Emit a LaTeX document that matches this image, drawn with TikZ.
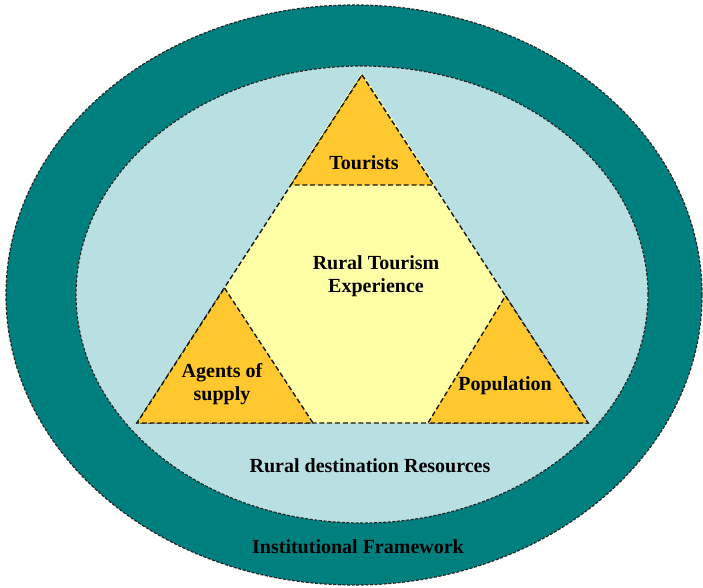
\documentclass[tikz,border=0pt]{standalone}
\usepackage{fontspec}
\setmainfont{Liberation Serif}
\definecolor{ringteal}{HTML}{007F7F}
\definecolor{poolblue}{HTML}{B8E0E3}
\definecolor{hexyellow}{HTML}{FFFFA6}
\definecolor{cornerorange}{HTML}{FFC82E}
\tikzset{
  ringline/.style={draw=black!85, line width=1.2pt, dash pattern=on 3pt off 1.6pt},
  triline/.style={draw=black!90, line width=1.4pt, dash pattern=on 5pt off 2.8pt},
  label/.style={font=\fontsize{20}{23}\selectfont\bfseries, align=center, inner sep=0pt}
}
\begin{document}
\begin{tikzpicture}[x=1pt,y=-1pt]
\useasboundingbox (0,0) rectangle (703,588);
\fill[white] (0,0) rectangle (703,588);
% outer ring and inner pool
\draw[ringline, fill=ringteal] (354,295) ellipse [x radius=348pt, y radius=290pt];
\draw[ringline, fill=poolblue] (362,294.5) ellipse [x radius=286pt, y radius=228.5pt];
% main triangle corners
\coordinate (A) at (362,75);
\coordinate (B) at (137,423);
\coordinate (C) at (588,423);
% cut points
\coordinate (TL) at (291,185);
\coordinate (TR) at (433.5,185);
\coordinate (LA) at (224.5,288);
\coordinate (LB) at (313,423);
\coordinate (RA) at (505.5,296);
\coordinate (RB) at (428,423);
% central hexagon
\fill[hexyellow] (A) -- (C) -- (B) -- cycle;
\draw[hexyellow, line width=3pt, line join=round] (TL) -- (A) -- (TR);
\draw[triline] (A) -- (C) -- (B) -- cycle;
% corner triangles
\draw[triline, fill=cornerorange] (A) -- (TR) -- (TL) -- cycle;
\draw[triline, fill=cornerorange] (LA) -- (LB) -- (B) -- cycle;
\draw[triline, fill=cornerorange] (RA) -- (C) -- (RB) -- cycle;
% labels
\node[label] (tourists) at (364,163) {Tourists};
\node[label] (experience) at (376,276) {Rural Tourism\\Experience};
\node[label] (agents) at (222,384) {Agents of\\supply};
\node[label] (population) at (505,386) {Population};
\node[label] (resources) at (370,466) {Rural destination Resources};
\node[label] (framework) at (358,547) {Institutional Framework};
\end{tikzpicture}
\end{document}
